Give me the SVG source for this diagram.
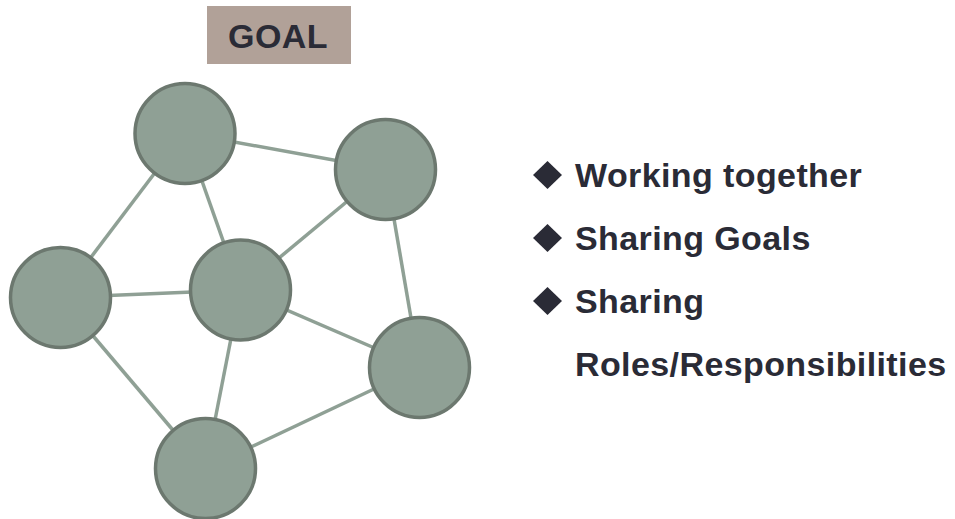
<svg xmlns="http://www.w3.org/2000/svg" width="955" height="519" viewBox="0 0 955 519">
<style>
.node{fill:#8fa095;stroke:#6c786f;stroke-width:3.5}
.edge{stroke:#8fa095;stroke-width:3.5;fill:none}
.t{font-family:"Liberation Sans",Arial,sans-serif;font-weight:bold;font-size:34px;fill:#2a2b36;letter-spacing:0.4px}
.bullet{fill:#2a2b36}
</style>
<rect width="955" height="519" fill="#ffffff"/>
<g id="goal">
<rect x="207" y="6" width="144" height="58" fill="#b1a198"/>
<text class="t" x="278" y="48" text-anchor="middle">GOAL</text>
</g>
<g id="connectors">
<line class="edge" x1="185" y1="133" x2="385.5" y2="169.5"/>
<line class="edge" x1="185" y1="133" x2="60.5" y2="297.5"/>
<line class="edge" x1="185" y1="133" x2="240.5" y2="290"/>
<line class="edge" x1="385.5" y1="169.5" x2="240.5" y2="290"/>
<line class="edge" x1="385.5" y1="169.5" x2="419.5" y2="367.5"/>
<line class="edge" x1="60.5" y1="297.5" x2="240.5" y2="290"/>
<line class="edge" x1="60.5" y1="297.5" x2="205.5" y2="468.5"/>
<line class="edge" x1="240.5" y1="290" x2="419.5" y2="367.5"/>
<line class="edge" x1="240.5" y1="290" x2="205.5" y2="468.5"/>
<line class="edge" x1="419.5" y1="367.5" x2="205.5" y2="468.5"/>
</g>
<g id="node-top"><circle class="node" cx="185" cy="133.5" r="50"/></g>
<g id="node-topright"><circle class="node" cx="385.5" cy="169.5" r="50"/></g>
<g id="node-left"><circle class="node" cx="60.5" cy="297.5" r="50"/></g>
<g id="node-center"><circle class="node" cx="240.5" cy="290" r="50"/></g>
<g id="node-right"><circle class="node" cx="419.5" cy="367.5" r="50"/></g>
<g id="node-bottom"><circle class="node" cx="205.5" cy="468.5" r="50"/></g>
<g id="bullets">
<polygon class="bullet" points="547.5,161 562,175 547.5,189 533,175"/>
<text class="t" x="575" y="187">Working together</text>
<polygon class="bullet" points="547.5,224 562,238 547.5,252 533,238"/>
<text class="t" x="575" y="250">Sharing Goals</text>
<polygon class="bullet" points="547.5,287 562,301 547.5,315 533,301"/>
<text class="t" x="575" y="313">Sharing</text>
<text class="t" x="575" y="376">Roles/Responsibilities</text>
</g>
</svg>
